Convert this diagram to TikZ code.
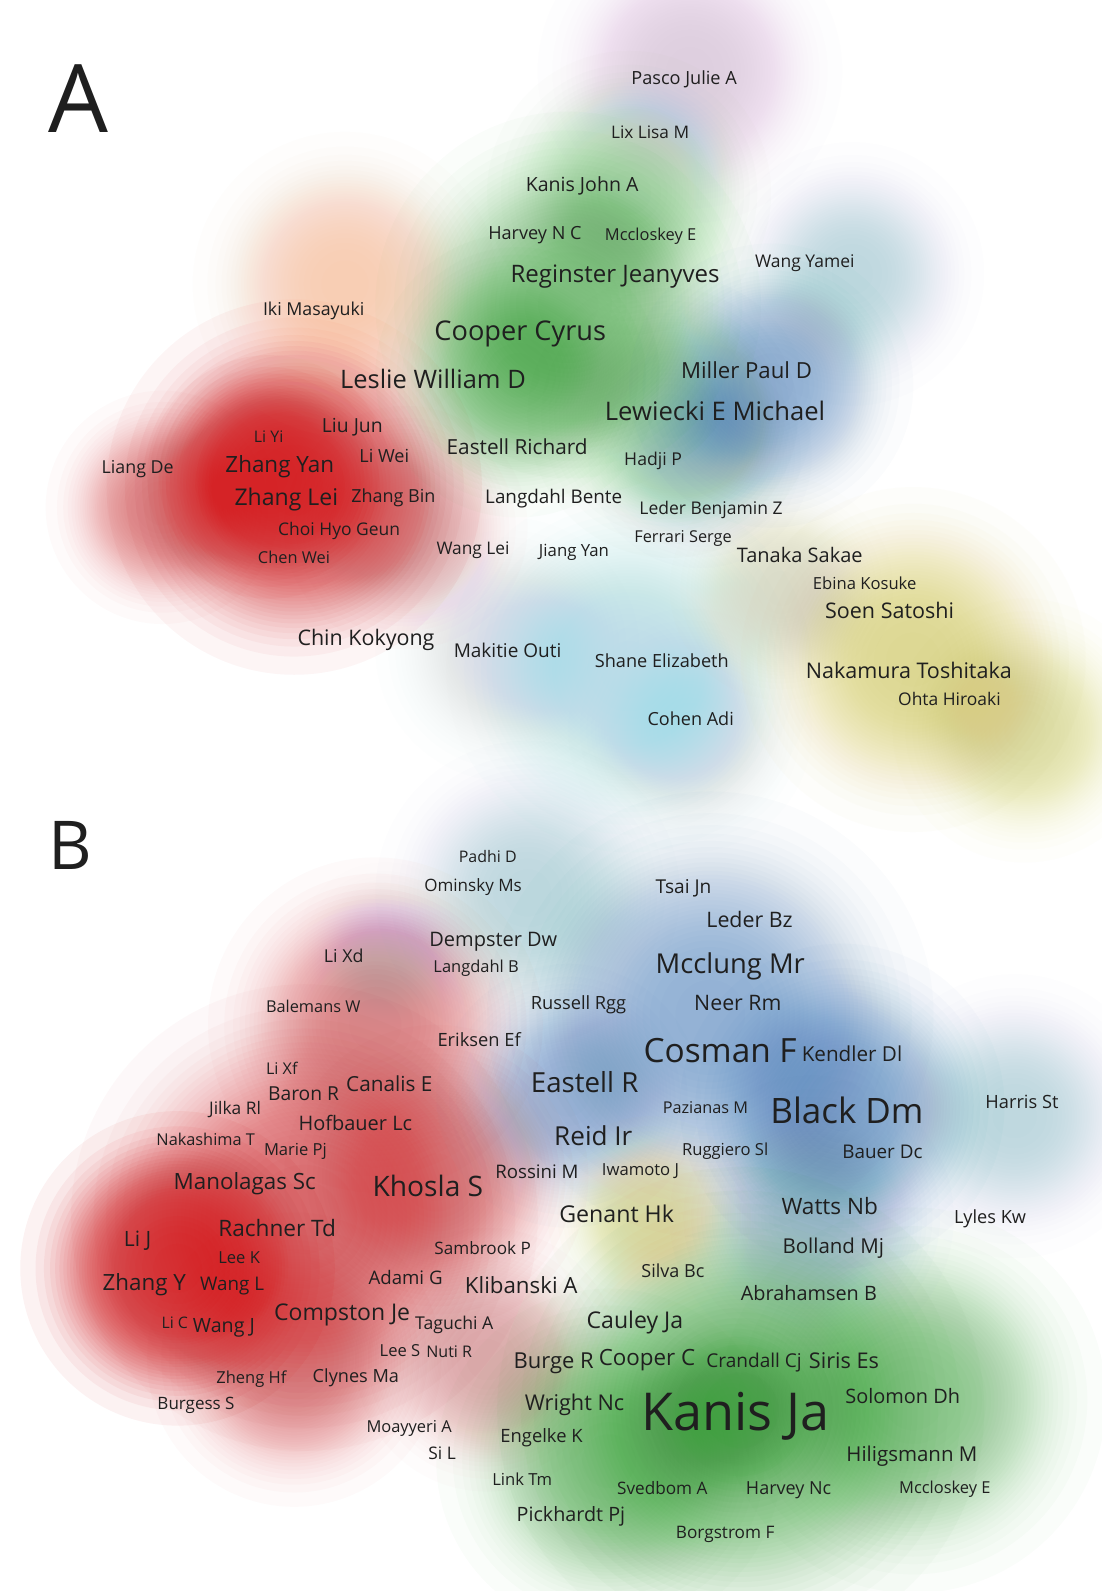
\documentclass[tikz,border=0pt]{standalone}
\usepackage{fontspec}
\setmainfont{Open Sans}
\usepackage{graphicx}
\usepackage{xcolor}
\usepackage{tikz}

\definecolor{vosred}{RGB}{213,35,38}
\definecolor{vosgreen}{RGB}{44,160,44}
\definecolor{vosblue}{RGB}{51,115,185}
\definecolor{vosyellow}{RGB}{215,205,90}
\definecolor{voscyan}{RGB}{165,220,232}
\definecolor{vospurple}{RGB}{190,160,220}
\definecolor{vosorange}{RGB}{248,170,120}

% one soft spot of the density map: stacked discs with a flat-topped fall-off
\newcommand{\densityspot}[5]{%
  \pgfmathsetmacro\spota{1-(1-#5)^(1/32)}%
  \foreach \k in {1,...,32}{%
    \pgfmathsetmacro\spotr{#3*(ln(32/(\k-0.5))/ln(64))^(1/3)}%
    \fill[#4,fill opacity=\spota] (#1,#2) circle[radius=\spotr pt];}}

\begin{document}
\begin{tikzpicture}[
    x=1pt,y=-1pt,
    every node/.style={inner sep=0pt,text=black!88},
    lbl/.style={anchor=west,yshift=-3pt}
  ]
  \useasboundingbox[fill=white] (0,0) rectangle (1086,1568);

  % density, panel A
  \foreach \x/\y/\r/\c/\o in {
      290/480/185/vosred/0.75, 265/470/120/vosred/0.75, 160/500/115/vosred/0.45,
      400/520/120/vosred/0.35, 340/280/150/vosorange/0.45,
      560/300/190/vosgreen/0.5, 510/370/140/vosgreen/0.45, 620/190/140/vosgreen/0.35,
      660/410/140/vosgreen/0.3, 680/70/150/vospurple/0.4,
      760/380/140/vosblue/0.45, 690/450/110/vosblue/0.25, 840/270/130/vosblue/0.2,
      620/660/180/voscyan/0.6, 500/640/130/voscyan/0.35, 680/720/120/voscyan/0.3,
      900/650/170/vosyellow/0.6, 1010/720/130/vosyellow/0.45, 770/580/110/vosyellow/0.25}
    {\densityspot{\x}{\y}{\r}{\c}{\o}}

  % density, panel B
  \foreach \x/\y/\r/\c/\o in {
      175/1250/155/vosred/0.85, 300/1200/230/vosred/0.6, 430/1160/150/vosred/0.5,
      370/1010/165/vosred/0.45, 290/1340/145/vosred/0.5, 480/1340/130/vosred/0.35,
      700/1000/220/vosblue/0.5, 830/1090/160/vosblue/0.55, 560/1080/130/vosblue/0.4,
      520/880/150/vosblue/0.25, 1000/1100/140/vosblue/0.25, 800/1200/140/vosblue/0.3,
      730/1390/240/vosgreen/0.6, 720/1390/100/vosgreen/0.5, 900/1380/190/vosgreen/0.45,
      600/1440/170/vosgreen/0.45, 640/1200/100/vosyellow/0.45, 380/940/90/vospurple/0.25}
    {\densityspot{\x}{\y}{\r}{\c}{\o}}

  \node[anchor=west] (panelA) at (48,97) {\resizebox{59pt}{!}{A}};
  \node[anchor=west] (panelB) at (48,833) {\resizebox{43pt}{!}{B}};

  % authors, panel A
  \foreach \l/\y/\w/\t [count=\i] in {
      622/76/104/Pasco Julie A, 602/129/77/Lix Lisa M, 518/181/111/Kanis John A,
      481/229/92/Harvey N C, 596/230/90/Mccloskey E, 744/256/98/Wang Yamei,
      503/270/206/Reginster Jeanyves, 259/303/100/Iki Masayuki, 428/326/169/Cooper Cyrus,
      335/373/183/Leslie William D, 671/364/129/Miller Paul D, 596/405/217/Lewiecki E Michael,
      317/419/60/Liu Jun, 250/429/29/Li Yi, 440/440/139/Eastell Richard,
      354/448/49/Li Wei, 100/459/71/Liang De, 222/457/107/Zhang Yan,
      615/451/57/Hadji P, 231/489/102/Zhang Lei, 346/488/83/Zhang Bin,
      478/488/135/Langdahl Bente, 630/500/141/Leder Benjamin Z, 274/520/120/Choi Hyo Geun,
      625/528/96/Ferrari Serge, 430/539/72/Wang Lei, 531/541/69/Jiang Yan,
      254/548/71/Chen Wei, 726/546/124/Tanaka Sakae, 801/574/102/Ebina Kosuke,
      813/601/127/Soen Satoshi, 293/628/135/Chin Kokyong, 447/640/106/Makitie Outi,
      586/650/132/Shane Elizabeth, 794/660/203/Nakamura Toshitaka, 885/688/101/Ohta Hiroaki,
      638/707/85/Cohen Adi}
    \node[lbl] (a\i) at (\l,\y) {\resizebox{\w pt}{!}{\vphantom{Ag}\t}};

  % authors, panel B
  \foreach \l/\y/\w/\t [count=\i] in {
      452/843/57/Padhi D, 418/871/96/Ominsky Ms, 646/873/55/Tsai Jn,
      696/906/85/Leder Bz, 423/925/126/Dempster Dw, 319/941/39/Li Xd,
      427/951/84/Langdahl B, 646/949/147/Mcclung Mr, 262/991/93/Balemans W,
      523/987/94/Russell Rgg, 684/988/86/Neer Rm, 431/1024/82/Eriksen Ef,
      634/1036/151/Cosman F, 790/1038/99/Kendler Dl, 262/1052/31/Li Xf,
      341/1067/85/Canalis E, 523/1067/106/Eastell R, 264/1077/70/Baron R,
      206/1091/51/Jilka Rl, 653/1090/84/Pazianas M, 759/1095/151/Black Dm,
      971/1085/72/Harris St, 294/1106/112/Hofbauer Lc, 154/1122/97/Nakashima T,
      260/1132/62/Marie Pj, 546/1119/77/Reid Ir, 672/1132/85/Ruggiero Sl,
      830/1134/79/Bauer Dc, 488/1154/82/Rossini M, 593/1152/76/Iwamoto J,
      171/1164/140/Manolagas Sc, 367/1169/109/Khosla S, 551/1196/113/Genant Hk,
      770/1188/95/Watts Nb, 940/1198/71/Lyles Kw, 215/1210/116/Rachner Td,
      122/1220/27/Li J, 215/1238/41/Lee K, 428/1229/95/Sambrook P,
      771/1227/100/Bolland Mj, 632/1251/62/Silva Bc, 101/1263/82/Zhang Y,
      197/1264/63/Wang L, 363/1258/73/Adami G, 458/1266/111/Klibanski A,
      730/1274/134/Abrahamsen B, 270/1293/134/Compston Je, 409/1303/77/Taguchi A,
      578/1300/95/Cauley Ja, 159/1302/26/Li C, 190/1306/61/Wang J,
      374/1330/40/Lee S, 420/1331/45/Nuti R, 506/1341/79/Burge R,
      590/1337/95/Cooper C, 696/1340/94/Crandall Cj, 797/1340/69/Siris Es,
      213/1356/69/Zheng Hf, 308/1355/85/Clynes Ma, 155/1382/76/Burgess S,
      833/1375/113/Solomon Dh, 517/1382/98/Wright Nc, 632/1394/185/Kanis Ja,
      361/1405/84/Moayyeri A, 493/1414/81/Engelke K, 834/1432/129/Hiligsmann M,
      422/1431/27/Si L, 485/1457/59/Link Tm, 608/1465/89/Svedbom A,
      735/1466/84/Harvey Nc, 886/1465/90/Mccloskey E, 509/1491/107/Pickhardt Pj,
      666/1509/97/Borgstrom F}
    \node[lbl] (b\i) at (\l,\y) {\resizebox{\w pt}{!}{\vphantom{Ag}\t}};
\end{tikzpicture}
\end{document}
